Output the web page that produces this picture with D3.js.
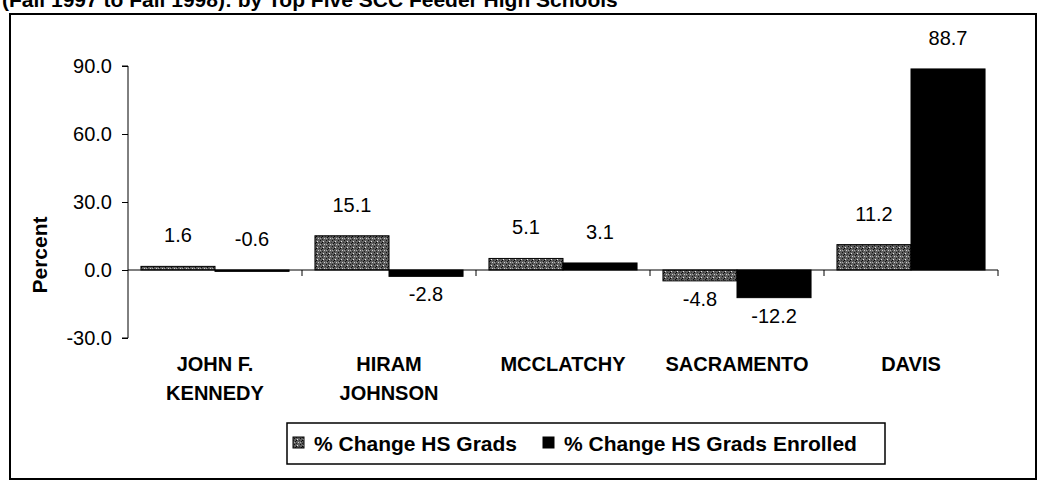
<!DOCTYPE html>
<html>
<head>
<meta charset="utf-8">
<script src="https://cdn.jsdelivr.net/npm/d3@7"></script>
<style>
  body { margin: 0; background: #fff; }
  text { font-family: Arial, "Liberation Sans", sans-serif; fill: #000; }
</style>
</head>
<body>
<svg id="chart"></svg>
<script>
// Data
const schools = ["JOHN F. KENNEDY", "HIRAM JOHNSON", "MCCLATCHY", "SACRAMENTO", "DAVIS"];
const schoolLines = [["JOHN F.", "KENNEDY"], ["HIRAM", "JOHNSON"], ["MCCLATCHY"], ["SACRAMENTO"], ["DAVIS"]];
const seriesNames = ["% Change HS Grads", "% Change HS Grads Enrolled"];
const grads = [1.6, 15.1, 5.1, -4.8, 11.2];
const enrolled = [-0.6, -2.8, 3.1, -12.2, 88.7];
const yTicks = [-30, 0, 30, 60, 90];
const title = "(Fall 1997 to Fall 1998): by Top Five SCC Feeder High Schools";

const width = 1038, height = 480;

//Plain hyphen for negatives, like the original
const fmt = d3.formatLocale({ decimal: '.', thousands: ',', grouping: [3], currency: ['', ''], minus: '-' }).format('.1f');

const svg = d3.select('#chart')
    .attr('width', width)
    .attr('height', height);

//Stipple pattern for the grey series
const defs = svg.append('defs');
const pat = defs.append('pattern')
    .attr('id', 'stipple')
    .attr('patternUnits', 'userSpaceOnUse')
    .attr('width', 6)
    .attr('height', 6);
pat.append('rect').attr('width', 6).attr('height', 6).attr('fill', '#5e5e5e');
[[0,0,'#111'],[3,1,'#e8e8e8'],[1,3,'#111'],[4,4,'#d0d0d0'],[2,5,'#222'],[5,2,'#333'],[0,4,'#aaa'],[2,2,'#000']]
    .forEach(p => pat.append('rect').attr('x', p[0]).attr('y', p[1]).attr('width', 1).attr('height', 1).attr('fill', p[2]));

//Title (cut off at top, as in the scan)
svg.append('text')
    .attr('x', 2)
    .attr('y', 7)
    .style('font-size', '21px')
    .style('font-weight', 'bold')
    .text(title);

//Outer frame
svg.append('rect')
    .attr('x', 10)
    .attr('y', 14)
    .attr('width', 1026)
    .attr('height', 465)
    .style('fill', 'none')
    .style('stroke', '#000')
    .style('stroke-width', 2);

//Scales
const x = d3.scaleBand().domain(schools).range([128, 998]);
const xs = d3.scaleBand().domain(seriesNames).range([0, x.bandwidth()]).paddingOuter(0.175);
const y = d3.scaleLinear().domain([-30, 90]).range([338, 66]);

const rows = schools.map((s, i) => ({ school: s, values: [grads[i], enrolled[i]] }));

//Y axis
const yAxis = d3.axisLeft(y)
    .tickValues(yTicks)
    .tickSize(6)
    .tickFormat(fmt);

const gy = svg.append('g')
    .attr('transform', 'translate(128,0)')
    .call(yAxis);
gy.selectAll('text')
    .attr('x', -16)
    .style('font-size', '20px')
    .style('font-family', 'Arial, "Liberation Sans", sans-serif');
gy.selectAll('line, path').attr('stroke', '#000');
gy.select('.domain').attr('d', `M-6,${y(90)}H0V${y(-30)}H-6`);

//Bars
const group = svg.selectAll('.grp')
    .data(rows)
    .enter().append('g')
    .attr('class', 'grp')
    .attr('transform', d => `translate(${x(d.school)},0)`);

group.selectAll('rect')
    .data(d => d.values.map((v, k) => ({ series: seriesNames[k], value: v, k: k })))
    .enter().append('rect')
    .attr('x', d => xs(d.series))
    .attr('width', xs.bandwidth())
    .attr('y', d => y(Math.max(0, d.value)))
    .attr('height', d => Math.abs(y(d.value) - y(0)))
    .style('fill', d => d.k === 0 ? 'url(#stipple)' : '#000')
    .style('stroke', '#000')
    .style('stroke-width', 1);

//Value labels
group.selectAll('.val')
    .data(d => d.values.map((v, k) => ({ series: seriesNames[k], value: v })))
    .enter().append('text')
    .attr('class', 'val')
    .attr('x', d => xs(d.series) + xs.bandwidth() / 2)
    .attr('y', d => d.value > -1 ? y(Math.max(0, d.value)) - 24 : y(d.value) + 25)
    .attr('text-anchor', 'middle')
    .style('font-size', '20px')
    .text(d => fmt(d.value));

//X axis line at zero with tick marks at band edges
svg.append('line')
    .attr('x1', 128).attr('x2', 998)
    .attr('y1', y(0)).attr('y2', y(0))
    .style('stroke', '#000');
svg.selectAll('.xtick')
    .data(schools)
    .enter().append('line')
    .attr('class', 'xtick')
    .attr('x1', d => x(d) + x.bandwidth())
    .attr('x2', d => x(d) + x.bandwidth())
    .attr('y1', y(0))
    .attr('y2', y(0) + 6)
    .style('stroke', '#000');

//Category labels
svg.selectAll('.cat')
    .data(schools)
    .enter().append('text')
    .attr('class', 'cat')
    .attr('x', d => x(d) + x.bandwidth() / 2)
    .attr('y', 371)
    .attr('text-anchor', 'middle')
    .style('font-size', '20px')
    .style('font-weight', 'bold')
    .each(function (d, i) {
        d3.select(this).selectAll('tspan')
            .data(schoolLines[i])
            .enter().append('tspan')
            .attr('x', x(d) + x.bandwidth() / 2)
            .attr('dy', (t, j) => j === 0 ? 0 : 29)
            .text(t => t);
    });

//Y title
svg.append('text')
    .attr('transform', 'translate(47,255) rotate(-90)')
    .attr('text-anchor', 'middle')
    .style('font-size', '21px')
    .style('font-weight', 'bold')
    .text('Percent');

//Legend
const legend = svg.append('g');
legend.append('rect')
    .attr('x', 287).attr('y', 423)
    .attr('width', 598).attr('height', 41)
    .style('fill', '#fff')
    .style('stroke', '#000')
    .style('stroke-width', 1.5);

const legendX = [293, 543];
seriesNames.forEach((s, k) => {
    legend.append('rect')
        .attr('x', legendX[k]).attr('y', 437)
        .attr('width', 11).attr('height', 11)
        .style('fill', k === 0 ? 'url(#stipple)' : '#000')
        .style('stroke', '#000');
    legend.append('text')
        .attr('x', legendX[k] + 21)
        .attr('y', 444)
        .attr('dy', '0.35em')
        .style('font-size', '21px')
        .style('font-weight', 'bold')
        .text(s);
});
</script>
</body>
</html>
